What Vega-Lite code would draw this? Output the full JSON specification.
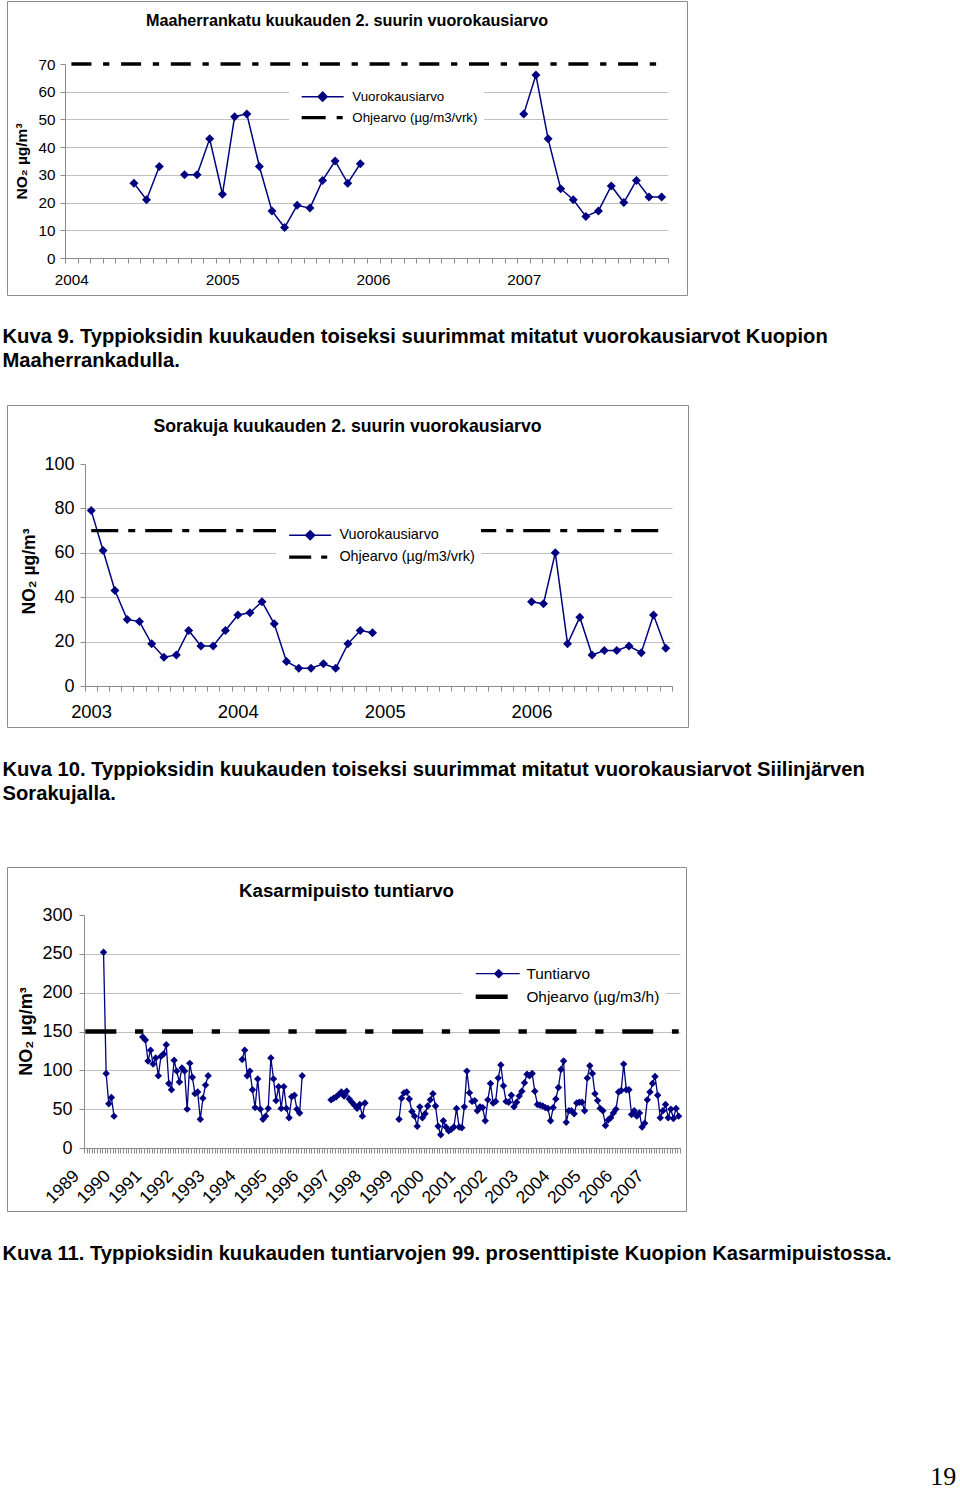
{
"$schema": "https://vega.github.io/schema/vega-lite/v6.json",
"background": "white",
"padding": {"left": 1, "top": 0, "right": 0, "bottom": 0},
"title": {"text": "19", "orient": "bottom", "anchor": "end", "frame": "bounds", "font": "Liberation Serif", "fontSize": 26, "fontWeight": "normal", "color": "#000", "baseline": "alphabetic", "offset": 221, "dx": 59},
"datasets": {
"maa": [
{"d":"2004-06-01","v":27,"g":1},{"d":"2004-07-01","v":21,"g":1},{"d":"2004-08-01","v":33,"g":1},
{"d":"2004-10-01","v":30,"g":2},{"d":"2004-11-01","v":30,"g":2},{"d":"2004-12-01","v":43,"g":2},{"d":"2005-01-01","v":23,"g":2},{"d":"2005-02-01","v":51,"g":2},{"d":"2005-03-01","v":52,"g":2},{"d":"2005-04-01","v":33,"g":2},{"d":"2005-05-01","v":17,"g":2},{"d":"2005-06-01","v":11,"g":2},{"d":"2005-07-01","v":19,"g":2},{"d":"2005-08-01","v":18,"g":2},{"d":"2005-09-01","v":28,"g":2},{"d":"2005-10-01","v":35,"g":2},{"d":"2005-11-01","v":27,"g":2},{"d":"2005-12-01","v":34,"g":2},
{"d":"2007-01-01","v":52,"g":3},{"d":"2007-02-01","v":66,"g":3},{"d":"2007-03-01","v":43,"g":3},{"d":"2007-04-01","v":25,"g":3},{"d":"2007-05-01","v":21,"g":3},{"d":"2007-06-01","v":15,"g":3},{"d":"2007-07-01","v":17,"g":3},{"d":"2007-08-01","v":26,"g":3},{"d":"2007-09-01","v":20,"g":3},{"d":"2007-10-01","v":28,"g":3},{"d":"2007-11-01","v":22,"g":3},{"d":"2007-12-01","v":22,"g":3}
],
"maaLim": [{"d":"2004-01-01","v":70},{"d":"2007-12-01","v":70}],
"sor": [
{"d":"2003-01-01","v":79,"g":1},{"d":"2003-02-01","v":61,"g":1},{"d":"2003-03-01","v":43,"g":1},{"d":"2003-04-01","v":30,"g":1},{"d":"2003-05-01","v":29,"g":1},{"d":"2003-06-01","v":19,"g":1},{"d":"2003-07-01","v":13,"g":1},{"d":"2003-08-01","v":14,"g":1},{"d":"2003-09-01","v":25,"g":1},{"d":"2003-10-01","v":18,"g":1},{"d":"2003-11-01","v":18,"g":1},{"d":"2003-12-01","v":25,"g":1},
{"d":"2004-01-01","v":32,"g":1},{"d":"2004-02-01","v":33,"g":1},{"d":"2004-03-01","v":38,"g":1},{"d":"2004-04-01","v":28,"g":1},{"d":"2004-05-01","v":11,"g":1},{"d":"2004-06-01","v":8,"g":1},{"d":"2004-07-01","v":8,"g":1},{"d":"2004-08-01","v":10,"g":1},{"d":"2004-09-01","v":8,"g":1},{"d":"2004-10-01","v":19,"g":1},{"d":"2004-11-01","v":25,"g":1},{"d":"2004-12-01","v":24,"g":1},
{"d":"2006-01-01","v":38,"g":2},{"d":"2006-02-01","v":37,"g":2},{"d":"2006-03-01","v":60,"g":2},{"d":"2006-04-01","v":19,"g":2},{"d":"2006-05-01","v":31,"g":2},{"d":"2006-06-01","v":14,"g":2},{"d":"2006-07-01","v":16,"g":2},{"d":"2006-08-01","v":16,"g":2},{"d":"2006-09-01","v":18,"g":2},{"d":"2006-10-01","v":15,"g":2},{"d":"2006-11-01","v":32,"g":2},{"d":"2006-12-01","v":17,"g":2}
],
"sorLim": [{"d":"2003-01-01","v":70},{"d":"2006-12-01","v":70}],
"kas": [
{"d":"1989-08-01","v":252,"g":1},{"d":"1989-09-01","v":96,"g":1},{"d":"1989-10-01","v":57,"g":1},{"d":"1989-11-01","v":65,"g":1},{"d":"1989-12-01","v":41,"g":1},
{"d":"1990-11-01","v":143,"g":2},{"d":"1990-12-01","v":139,"g":2},{"d":"1991-01-01","v":112,"g":2},{"d":"1991-02-01","v":126,"g":2},{"d":"1991-03-01","v":108,"g":2},{"d":"1991-04-01","v":116,"g":2},{"d":"1991-05-01","v":93,"g":2},{"d":"1991-06-01","v":118,"g":2},{"d":"1991-07-01","v":121,"g":2},{"d":"1991-08-01","v":133,"g":2},{"d":"1991-09-01","v":83,"g":2},{"d":"1991-10-01","v":75,"g":2},{"d":"1991-11-01","v":113,"g":2},{"d":"1991-12-01","v":99,"g":2},
{"d":"1992-01-01","v":85,"g":2},{"d":"1992-02-01","v":103,"g":2},{"d":"1992-03-01","v":99,"g":2},{"d":"1992-04-01","v":50,"g":2},{"d":"1992-05-01","v":109,"g":2},{"d":"1992-06-01","v":91,"g":2},{"d":"1992-07-01","v":70,"g":2},{"d":"1992-08-01","v":72,"g":2},{"d":"1992-09-01","v":37,"g":2},{"d":"1992-10-01","v":64,"g":2},{"d":"1992-11-01","v":81,"g":2},{"d":"1992-12-01","v":93,"g":2},
{"d":"1994-01-01","v":114,"g":3},{"d":"1994-02-01","v":126,"g":3},{"d":"1994-03-01","v":93,"g":3},{"d":"1994-04-01","v":99,"g":3},{"d":"1994-05-01","v":75,"g":3},{"d":"1994-06-01","v":52,"g":3},{"d":"1994-07-01","v":89,"g":3},{"d":"1994-08-01","v":50,"g":3},{"d":"1994-09-01","v":37,"g":3},{"d":"1994-10-01","v":41,"g":3},{"d":"1994-11-01","v":51,"g":3},{"d":"1994-12-01","v":116,"g":3},
{"d":"1995-01-01","v":89,"g":3},{"d":"1995-02-01","v":61,"g":3},{"d":"1995-03-01","v":79,"g":3},{"d":"1995-04-01","v":51,"g":3},{"d":"1995-05-01","v":79,"g":3},{"d":"1995-06-01","v":51,"g":3},{"d":"1995-07-01","v":39,"g":3},{"d":"1995-08-01","v":66,"g":3},{"d":"1995-09-01","v":68,"g":3},{"d":"1995-10-01","v":50,"g":3},{"d":"1995-11-01","v":45,"g":3},{"d":"1995-12-01","v":93,"g":3},
{"d":"1996-11-01","v":62,"g":4},{"d":"1996-12-01","v":64,"g":4},{"d":"1997-01-01","v":66,"g":4},{"d":"1997-02-01","v":69,"g":4},{"d":"1997-03-01","v":72,"g":4},{"d":"1997-04-01","v":67,"g":4},{"d":"1997-05-01","v":73,"g":4},{"d":"1997-06-01","v":63,"g":4},{"d":"1997-07-01","v":59,"g":4},{"d":"1997-08-01","v":55,"g":4},{"d":"1997-09-01","v":51,"g":4},{"d":"1997-10-01","v":56,"g":4},{"d":"1997-11-01","v":41,"g":4},{"d":"1997-12-01","v":58,"g":4},
{"d":"1999-01-01","v":37,"g":5},{"d":"1999-02-01","v":64,"g":5},{"d":"1999-03-01","v":71,"g":5},{"d":"1999-04-01","v":72,"g":5},{"d":"1999-05-01","v":63,"g":5},{"d":"1999-06-01","v":47,"g":5},{"d":"1999-07-01","v":41,"g":5},{"d":"1999-08-01","v":28,"g":5},{"d":"1999-09-01","v":53,"g":5},{"d":"1999-10-01","v":39,"g":5},{"d":"1999-11-01","v":44,"g":5},{"d":"1999-12-01","v":54,"g":5},
{"d":"2000-01-01","v":62,"g":5},{"d":"2000-02-01","v":70,"g":5},{"d":"2000-03-01","v":54,"g":5},{"d":"2000-04-01","v":28,"g":5},{"d":"2000-05-01","v":17,"g":5},{"d":"2000-06-01","v":35,"g":5},{"d":"2000-07-01","v":27,"g":5},{"d":"2000-08-01","v":22,"g":5},{"d":"2000-09-01","v":24,"g":5},{"d":"2000-10-01","v":27,"g":5},{"d":"2000-11-01","v":51,"g":5},{"d":"2000-12-01","v":27,"g":5},
{"d":"2001-01-01","v":26,"g":5},{"d":"2001-02-01","v":53,"g":5},{"d":"2001-03-01","v":99,"g":5},{"d":"2001-04-01","v":71,"g":5},{"d":"2001-05-01","v":60,"g":5},{"d":"2001-06-01","v":61,"g":5},{"d":"2001-07-01","v":48,"g":5},{"d":"2001-08-01","v":53,"g":5},{"d":"2001-09-01","v":52,"g":5},{"d":"2001-10-01","v":35,"g":5},{"d":"2001-11-01","v":62,"g":5},{"d":"2001-12-01","v":83,"g":5},
{"d":"2002-01-01","v":58,"g":5},{"d":"2002-02-01","v":60,"g":5},{"d":"2002-03-01","v":90,"g":5},{"d":"2002-04-01","v":107,"g":5},{"d":"2002-05-01","v":80,"g":5},{"d":"2002-06-01","v":60,"g":5},{"d":"2002-07-01","v":59,"g":5},{"d":"2002-08-01","v":68,"g":5},{"d":"2002-09-01","v":53,"g":5},{"d":"2002-10-01","v":59,"g":5},{"d":"2002-11-01","v":67,"g":5},{"d":"2002-12-01","v":73,"g":5},
{"d":"2003-01-01","v":84,"g":5},{"d":"2003-02-01","v":95,"g":5},{"d":"2003-03-01","v":93,"g":5},{"d":"2003-04-01","v":96,"g":5},{"d":"2003-05-01","v":73,"g":5},{"d":"2003-06-01","v":56,"g":5},{"d":"2003-07-01","v":55,"g":5},{"d":"2003-08-01","v":54,"g":5},{"d":"2003-09-01","v":52,"g":5},{"d":"2003-10-01","v":51,"g":5},{"d":"2003-11-01","v":35,"g":5},{"d":"2003-12-01","v":52,"g":5},
{"d":"2004-01-01","v":63,"g":5},{"d":"2004-02-01","v":78,"g":5},{"d":"2004-03-01","v":101,"g":5},{"d":"2004-04-01","v":112,"g":5},{"d":"2004-05-01","v":33,"g":5},{"d":"2004-06-01","v":48,"g":5},{"d":"2004-07-01","v":48,"g":5},{"d":"2004-08-01","v":44,"g":5},{"d":"2004-09-01","v":58,"g":5},{"d":"2004-10-01","v":59,"g":5},{"d":"2004-11-01","v":59,"g":5},{"d":"2004-12-01","v":48,"g":5},
{"d":"2005-01-01","v":90,"g":5},{"d":"2005-02-01","v":106,"g":5},{"d":"2005-03-01","v":96,"g":5},{"d":"2005-04-01","v":70,"g":5},{"d":"2005-05-01","v":61,"g":5},{"d":"2005-06-01","v":51,"g":5},{"d":"2005-07-01","v":48,"g":5},{"d":"2005-08-01","v":29,"g":5},{"d":"2005-09-01","v":36,"g":5},{"d":"2005-10-01","v":39,"g":5},{"d":"2005-11-01","v":45,"g":5},{"d":"2005-12-01","v":50,"g":5},
{"d":"2006-01-01","v":72,"g":5},{"d":"2006-02-01","v":74,"g":5},{"d":"2006-03-01","v":108,"g":5},{"d":"2006-04-01","v":75,"g":5},{"d":"2006-05-01","v":75,"g":5},{"d":"2006-06-01","v":43,"g":5},{"d":"2006-07-01","v":48,"g":5},{"d":"2006-08-01","v":41,"g":5},{"d":"2006-09-01","v":45,"g":5},{"d":"2006-10-01","v":27,"g":5},{"d":"2006-11-01","v":32,"g":5},{"d":"2006-12-01","v":62,"g":5},
{"d":"2007-01-01","v":72,"g":5},{"d":"2007-02-01","v":83,"g":5},{"d":"2007-03-01","v":92,"g":5},{"d":"2007-04-01","v":68,"g":5},{"d":"2007-05-01","v":39,"g":5},{"d":"2007-06-01","v":48,"g":5},{"d":"2007-07-01","v":56,"g":5},{"d":"2007-08-01","v":39,"g":5},{"d":"2007-09-01","v":50,"g":5},{"d":"2007-10-01","v":38,"g":5},{"d":"2007-11-01","v":51,"g":5},{"d":"2007-12-01","v":41,"g":5}
],
"kasLim": [{"d":"1989-01-01","v":150},{"d":"2007-12-01","v":150}]
},
"vconcat": [
{
"vconcat": [
{
"width": 680, "height": 294,
"title": {"text": "Maaherrankatu kuukauden 2. suurin vuorokausiarvo", "anchor": "middle", "frame": "group", "baseline": "alphabetic", "offset": -41, "fontSize": 16.2, "fontWeight": "bold"},
"encoding": {
  "x": {"field": "d", "type": "temporal", "timeUnit": "utcyearmonth", "bandPosition": 0.5,
   "scale": {"type": "utc", "domain": [{"year": 2004, "month": 1, "date": 1, "utc": true}, {"year": 2008, "month": 1, "date": 1, "utc": true}], "range": [58, 661], "nice": false},
   "axis": {"orient": "bottom", "offset": -37, "tickCount": {"interval": "month", "step": 1}, "tickSize": 5, "grid": false,
    "labelExpr": "utcmonth(datum.value) == 0 && utcyear(datum.value) < 2008 ? utcFormat(datum.value, '%Y') : ''",
    "labelOffset": 6.3, "labelPadding": 9, "labelFontSize": 15.3, "labelFlush": false, "labelOverlap": false, "labelBound": false, "labelAngle": 0, "labelAlign": "center", "labelBaseline": "top",
    "title": ["Kuva 9. Typpioksidin kuukauden toiseksi suurimmat mitatut vuorokausiarvot Kuopion", "Maaherrankadulla."],
    "titleX": -5, "titleY": 84, "titleAlign": "left", "titleAnchor": "start", "titleBaseline": "alphabetic", "titleFontSize": 20.2, "titleFontWeight": "bold", "titleLineHeight": 24, "titleAngle": 0, "titleLimit": 2000}},
  "y": {"field": "v", "type": "quantitative",
   "scale": {"domain": [0, 70], "range": [257, 63], "nice": false},
   "axis": {"orient": "left", "offset": -58, "values": [0, 10, 20, 30, 40, 50, 60, 70], "tickSize": 5, "labelPadding": 5, "labelFontSize": 15.3, "grid": true,
    "gridOpacity": {"condition": {"test": "datum.value >= 70", "value": 0}, "value": 1},
    "title": "NO₂ µg/m³", "titleX": -44, "titleY": 160, "titleAngle": -90, "titleAlign": "center", "titleBaseline": "middle", "titleFontSize": 15.5, "titleFontWeight": "bold"}}
},
"layer": [
{"data": {"name": "maa"},
 "mark": {"type": "line", "strokeWidth": 1.5, "point": {"shape": "diamond", "size": 81, "filled": true, "opacity": 1}},
 "encoding": {
  "detail": {"field": "g", "type": "nominal"},
  "color": {"datum": "Vuorokausiarvo", "type": "nominal",
   "scale": {"domain": ["Vuorokausiarvo", "Ohjearvo (µg/m3/vrk)"], "range": ["#000080", "#000000"]},
   "legend": {"orient": "none", "legendX": 282, "legendY": 83, "title": null, "fillColor": "white", "padding": 6, "labelFontSize": 13.3, "labelOffset": 44, "rowPadding": 5, "symbolSize": 4, "labelLimit": 400,
    "encode": {"symbols": {"update": {
     "shape": {"signal": "datum.value === 'Vuorokausiarvo' ? 'M0,0H42M21,-4.5L25.5,0L21,4.5L16.5,0Z' : 'M0,0H24M35,0H41'"},
     "fill": {"signal": "datum.value === 'Vuorokausiarvo' ? '#000080' : 'transparent'"},
     "stroke": {"signal": "datum.value === 'Vuorokausiarvo' ? '#000080' : '#000000'"},
     "strokeWidth": {"signal": "datum.value === 'Vuorokausiarvo' ? 1.5 : 3.3"},
     "strokeDash": {"signal": "[]"},
     "opacity": {"value": 1}}}}}}
 }},
{"data": {"name": "maaLim"},
 "mark": {"type": "line", "strokeWidth": 3.3, "strokeDash": [20, 11.7, 6.3, 11.7], "strokeCap": "butt"},
 "encoding": {
  "color": {"datum": "Ohjearvo (µg/m3/vrk)", "type": "nominal"}
 }}
]
},
{
"width": 681, "height": 322,
"title": {"text": "Sorakuja kuukauden 2. suurin vuorokausiarvo", "anchor": "middle", "frame": "group", "baseline": "alphabetic", "offset": -45, "fontSize": 17.7, "fontWeight": "bold"},
"encoding": {
  "x": {"field": "d", "type": "temporal", "timeUnit": "utcyearmonth", "bandPosition": 0.5,
   "scale": {"type": "utc", "domain": [{"year": 2003, "month": 1, "date": 1, "utc": true}, {"year": 2007, "month": 1, "date": 1, "utc": true}], "range": [78, 665], "nice": false},
   "axis": {"orient": "bottom", "offset": -41, "tickCount": {"interval": "month", "step": 1}, "tickSize": 5, "grid": false,
    "labelExpr": "utcmonth(datum.value) == 0 && utcyear(datum.value) < 2007 ? utcFormat(datum.value, '%Y') : ''",
    "labelOffset": 6.1, "labelPadding": 11, "labelFontSize": 18.4, "labelFlush": false, "labelOverlap": false, "labelBound": false, "labelAngle": 0, "labelAlign": "center", "labelBaseline": "top",
    "title": ["Kuva 10. Typpioksidin kuukauden toiseksi suurimmat mitatut vuorokausiarvot Siilinjärven", "Sorakujalla."],
    "titleX": -5, "titleY": 89, "titleAlign": "left", "titleAnchor": "start", "titleBaseline": "alphabetic", "titleFontSize": 20.2, "titleFontWeight": "bold", "titleLineHeight": 24, "titleAngle": 0, "titleLimit": 2000}},
  "y": {"field": "v", "type": "quantitative",
   "scale": {"domain": [0, 100], "range": [281, 59], "nice": false},
   "axis": {"orient": "left", "offset": -78, "values": [0, 20, 40, 60, 80, 100], "tickSize": 5, "labelPadding": 6, "labelFontSize": 18, "grid": true,
    "gridOpacity": {"condition": {"test": "datum.value >= 100", "value": 0}, "value": 1},
    "title": "NO₂ µg/m³", "titleX": -56, "titleY": 166, "titleAngle": -90, "titleAlign": "center", "titleBaseline": "middle", "titleFontSize": 17.5, "titleFontWeight": "bold"}}
},
"layer": [
{"data": {"name": "sor"},
 "mark": {"type": "line", "strokeWidth": 1.5, "point": {"shape": "diamond", "size": 81, "filled": true, "opacity": 1}},
 "encoding": {
  "detail": {"field": "g", "type": "nominal"},
  "color": {"datum": "Vuorokausiarvo", "type": "nominal",
   "scale": {"domain": ["Vuorokausiarvo", "Ohjearvo (µg/m3/vrk)"], "range": ["#000080", "#000000"]},
   "legend": {"orient": "none", "legendX": 269, "legendY": 117, "title": null, "fillColor": "white", "padding": 6, "labelFontSize": 14.4, "labelOffset": 43, "rowPadding": 6, "symbolSize": 4, "labelLimit": 400,
    "encode": {"symbols": {"update": {
     "shape": {"signal": "datum.value === 'Vuorokausiarvo' ? 'M0,0H42M21,-4.5L25.5,0L21,4.5L16.5,0Z' : 'M0,0H22M32,0H38'"},
     "fill": {"signal": "datum.value === 'Vuorokausiarvo' ? '#000080' : 'transparent'"},
     "stroke": {"signal": "datum.value === 'Vuorokausiarvo' ? '#000080' : '#000000'"},
     "strokeWidth": {"signal": "datum.value === 'Vuorokausiarvo' ? 1.5 : 3.3"},
     "strokeDash": {"signal": "[]"},
     "opacity": {"value": 1}}}}}}
 }},
{"data": {"name": "sorLim"},
 "mark": {"type": "line", "strokeWidth": 3.3, "strokeDash": [27, 10, 7, 10], "strokeCap": "butt"},
 "encoding": {
  "color": {"datum": "Ohjearvo (µg/m3/vrk)", "type": "nominal"}
 }}
]
}
],
"spacing": 110,
"bounds": "flush",
"resolve": {"scale": {"color": "independent"}, "legend": {"color": "independent"}}
},
{
"width": 679, "height": 344,
"title": {"text": "Kasarmipuisto tuntiarvo", "anchor": "middle", "frame": "group", "baseline": "alphabetic", "offset": -48.4, "fontSize": 18.7, "fontWeight": "bold"},
"encoding": {
  "x": {"field": "d", "type": "temporal", "timeUnit": "utcyearmonth", "bandPosition": 0.5,
   "scale": {"type": "utc", "domain": [{"year": 1989, "month": 1, "date": 1, "utc": true}, {"year": 2008, "month": 1, "date": 1, "utc": true}], "range": [77, 673], "nice": false},
   "axis": {"orient": "bottom", "offset": -63, "tickCount": {"interval": "month", "step": 1}, "tickSize": 5, "grid": false,
    "labelExpr": "utcmonth(datum.value) == 0 && utcyear(datum.value) < 2008 ? utcFormat(datum.value, '%Y') : ''",
    "labelOffset": -8, "labelPadding": 20, "labelFontSize": 17.5, "labelFlush": false, "labelOverlap": false, "labelBound": false, "labelAngle": -45, "labelAlign": "right", "labelBaseline": "middle",
    "title": "Kuva 11. Typpioksidin kuukauden tuntiarvojen 99. prosenttipiste  Kuopion Kasarmipuistossa.",
    "titleX": -5, "titleY": 111, "titleAlign": "left", "titleAnchor": "start", "titleBaseline": "alphabetic", "titleFontSize": 20.2, "titleFontWeight": "bold", "titleAngle": 0, "titleLimit": 2000}},
  "y": {"field": "v", "type": "quantitative",
   "scale": {"domain": [0, 300], "range": [281, 48], "nice": false},
   "axis": {"orient": "left", "offset": -77, "values": [0, 50, 100, 150, 200, 250, 300], "tickSize": 5, "labelPadding": 7, "labelFontSize": 18, "grid": true,
    "gridOpacity": {"condition": {"test": "datum.value >= 300", "value": 0}, "value": 1},
    "title": "NO₂ µg/m³", "titleX": -58, "titleY": 164, "titleAngle": -90, "titleAlign": "center", "titleBaseline": "middle", "titleFontSize": 18, "titleFontWeight": "bold"}}
},
"layer": [
{"data": {"name": "kas"},
 "mark": {"type": "line", "strokeWidth": 1.3, "point": {"shape": "diamond", "size": 55, "filled": true, "opacity": 1}},
 "encoding": {
  "detail": {"field": "g", "type": "nominal"},
  "color": {"datum": "Tuntiarvo", "type": "nominal",
   "scale": {"domain": ["Tuntiarvo", "Ohjearvo (µg/m3/h)"], "range": ["#000080", "#000000"]},
   "legend": {"orient": "none", "legendX": 455, "legendY": 93, "title": null, "fillColor": "white", "padding": 6, "labelFontSize": 15.4, "labelOffset": 43, "rowPadding": 4, "symbolSize": 4, "labelLimit": 400,
    "encode": {"symbols": {"update": {
     "shape": {"signal": "datum.value === 'Tuntiarvo' ? 'M0,0H44M23,-4L27,0L23,4L19,0Z' : 'M0,0H32'"},
     "fill": {"signal": "datum.value === 'Tuntiarvo' ? '#000080' : 'transparent'"},
     "stroke": {"signal": "datum.value === 'Tuntiarvo' ? '#000080' : '#000000'"},
     "strokeWidth": {"signal": "datum.value === 'Tuntiarvo' ? 1.3 : 4.5"},
     "strokeDash": {"signal": "[]"},
     "opacity": {"value": 1}}}}}}
 }},
{"data": {"name": "kasLim"},
 "mark": {"type": "line", "strokeWidth": 4.3, "strokeDash": [31, 18.7, 8.3, 18.7], "strokeCap": "butt"},
 "encoding": {
  "color": {"datum": "Ohjearvo (µg/m3/h)", "type": "nominal"}
 }}
]
}
],
"spacing": 62,
"bounds": "full",
"resolve": {"scale": {"color": "independent"}, "legend": {"color": "independent"}},
"config": {
 "font": "Liberation Sans",
 "view": {"stroke": "#8c8c8c", "strokeWidth": 1},
 "axis": {"domainColor": "#8c8c8c", "tickColor": "#8c8c8c", "labelColor": "#000000", "titleColor": "#000000", "labelFont": "Liberation Sans", "titleFont": "Liberation Sans", "gridColor": "#c0c0c0", "gridWidth": 1, "domainWidth": 1, "tickWidth": 1},
 "legend": {"labelFont": "Liberation Sans", "labelColor": "#000000"},
 "title": {"font": "Liberation Sans", "color": "#000000"}
}
}
